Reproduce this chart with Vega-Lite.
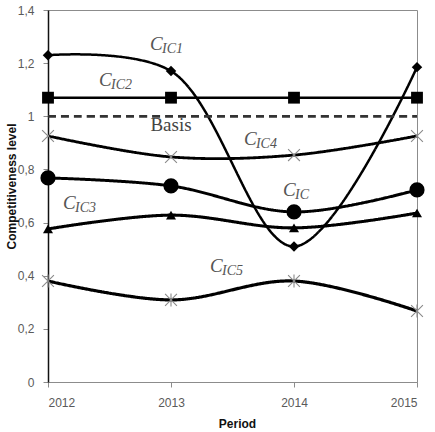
{
  "$schema": "https://vega.github.io/schema/vega-lite/v6.json",
  "width": 369,
  "height": 372,
  "autosize": {"type": "none"},
  "padding": {"left": 48, "top": 10, "right": 18, "bottom": 50},
  "background": "white",
  "config": {
    "view": {"stroke": "#8c8c8c", "strokeWidth": 1},
    "font": "Liberation Sans"
  },
  "datasets": {
    "levels": [
      {"series": "CIC1", "year": 2012, "value": 1.23},
      {"series": "CIC1", "year": 2013, "value": 1.17},
      {"series": "CIC1", "year": 2014, "value": 0.51},
      {"series": "CIC1", "year": 2015, "value": 1.185},
      {"series": "CIC2", "year": 2012, "value": 1.07},
      {"series": "CIC2", "year": 2013, "value": 1.07},
      {"series": "CIC2", "year": 2014, "value": 1.07},
      {"series": "CIC2", "year": 2015, "value": 1.07},
      {"series": "Basis", "year": 2012, "value": 1.0},
      {"series": "Basis", "year": 2013, "value": 1.0},
      {"series": "Basis", "year": 2014, "value": 1.0},
      {"series": "Basis", "year": 2015, "value": 1.0},
      {"series": "CIC4", "year": 2012, "value": 0.926},
      {"series": "CIC4", "year": 2013, "value": 0.847},
      {"series": "CIC4", "year": 2014, "value": 0.854},
      {"series": "CIC4", "year": 2015, "value": 0.926},
      {"series": "CIC", "year": 2012, "value": 0.768},
      {"series": "CIC", "year": 2013, "value": 0.738},
      {"series": "CIC", "year": 2014, "value": 0.64},
      {"series": "CIC", "year": 2015, "value": 0.723},
      {"series": "CIC3", "year": 2012, "value": 0.576},
      {"series": "CIC3", "year": 2013, "value": 0.628},
      {"series": "CIC3", "year": 2014, "value": 0.58},
      {"series": "CIC3", "year": 2015, "value": 0.636},
      {"series": "CIC5", "year": 2012, "value": 0.38},
      {"series": "CIC5", "year": 2013, "value": 0.309},
      {"series": "CIC5", "year": 2014, "value": 0.38},
      {"series": "CIC5", "year": 2015, "value": 0.267}
    ],
    "labels": [
      {"main": "C", "sub": "IC1", "year": 2012.829, "value": 1.272},
      {"main": "C", "sub": "IC2", "year": 2012.415, "value": 1.137},
      {"main": "C", "sub": "IC4", "year": 2013.593, "value": 0.913},
      {"main": "C", "sub": "IC", "year": 2013.911, "value": 0.721},
      {"main": "C", "sub": "IC3", "year": 2012.122, "value": 0.672},
      {"main": "C", "sub": "IC5", "year": 2013.317, "value": 0.435}
    ],
    "basis": [
      {"text": "Basis", "year": 2013.0, "value": 0.968}
    ]
  },
  "layer": [
    {
      "data": {"name": "levels"},
      "mark": {"type": "line", "interpolate": "catmull-rom"},
      "encoding": {
        "x": {
          "field": "year", "type": "quantitative",
          "scale": {"domain": [2012, 2015], "nice": false, "zero": false},
          "axis": {
            "values": [2012, 2013, 2014, 2015], "format": "d",
            "title": "Period", "grid": false,
            "domainColor": "#8c8c8c", "tickColor": "#8c8c8c", "tickSize": 5,
            "labelColor": "#5a5a5a", "labelFontSize": 12, "labelPadding": 10,
            "titleFontSize": 12, "titleFontWeight": "bold", "titleColor": "#111111",
            "titleX": 189, "titleY": 41, "titleBaseline": "middle", "titleAlign": "center"
          }
        },
        "y": {
          "field": "value", "type": "quantitative",
          "scale": {"domain": [0, 1.4], "nice": false},
          "axis": {
            "values": [0, 0.2, 0.4, 0.6, 0.8, 1, 1.2, 1.4],
            "labelExpr": "replace(format(datum.value, '.1~f'), '.', ',')",
            "title": "Competitiveness level", "grid": false,
            "domainColor": "#111111", "domainWidth": 1.5,
            "tickColor": "#8c8c8c", "tickSize": 5,
            "labelColor": "#5a5a5a", "labelFontSize": 12, "labelPadding": 9,
            "titleFontSize": 12, "titleFontWeight": "bold", "titleColor": "#111111",
            "titleX": -37, "titleY": 176, "titleBaseline": "middle", "titleAlign": "center", "titleAngle": -90
          }
        },
        "detail": {"field": "series"},
        "color": {
          "field": "series", "type": "nominal", "legend": null,
          "scale": {
            "domain": ["CIC1", "CIC2", "Basis", "CIC4", "CIC", "CIC3", "CIC5"],
            "range": ["#000000", "#000000", "#333333", "#000000", "#000000", "#000000", "#000000"]
          }
        },
        "strokeWidth": {
          "field": "series", "type": "nominal", "legend": null,
          "scale": {
            "domain": ["CIC1", "CIC2", "Basis", "CIC4", "CIC", "CIC3", "CIC5"],
            "range": [2.5, 3.2, 1.3, 2.5, 4.5, 2.5, 2.5]
          }
        },
        "strokeDash": {
          "field": "series", "type": "nominal", "legend": null,
          "scale": {
            "domain": ["CIC1", "CIC2", "Basis", "CIC4", "CIC", "CIC3", "CIC5"],
            "range": [[1, 0], [1, 0], [8, 5], [1, 0], [1, 0], [1, 0], [1, 0]]
          }
        }
      }
    },
    {
      "data": {"name": "levels"},
      "transform": [{"filter": "datum.series === 'CIC1'"}],
      "mark": {"type": "point", "shape": "diamond", "filled": true, "color": "#000000", "size": 110, "opacity": 1},
      "encoding": {
        "x": {"field": "year", "type": "quantitative"},
        "y": {"field": "value", "type": "quantitative"}
      }
    },
    {
      "data": {"name": "levels"},
      "transform": [{"filter": "datum.series === 'CIC2'"}],
      "mark": {"type": "point", "shape": "square", "filled": true, "color": "#000000", "size": 140, "opacity": 1},
      "encoding": {
        "x": {"field": "year", "type": "quantitative"},
        "y": {"field": "value", "type": "quantitative"}
      }
    },
    {
      "data": {"name": "levels"},
      "transform": [{"filter": "datum.series === 'CIC'"}],
      "mark": {"type": "point", "shape": "circle", "filled": true, "color": "#000000", "size": 230, "opacity": 1},
      "encoding": {
        "x": {"field": "year", "type": "quantitative"},
        "y": {"field": "value", "type": "quantitative"}
      }
    },
    {
      "data": {"name": "levels"},
      "transform": [{"filter": "datum.series === 'CIC3'"}],
      "mark": {"type": "point", "shape": "triangle-up", "filled": true, "color": "#000000", "size": 100, "opacity": 1},
      "encoding": {
        "x": {"field": "year", "type": "quantitative"},
        "y": {"field": "value", "type": "quantitative"}
      }
    },
    {
      "data": {"name": "levels"},
      "transform": [{"filter": "datum.series === 'CIC4'"}],
      "mark": {"type": "point", "shape": "M-1,-1L1,1M-1,1L1,-1", "filled": false, "stroke": "#8a8a8a", "strokeWidth": 1.1, "size": 140, "opacity": 1},
      "encoding": {
        "x": {"field": "year", "type": "quantitative"},
        "y": {"field": "value", "type": "quantitative"}
      }
    },
    {
      "data": {"name": "levels"},
      "transform": [{"filter": "datum.series === 'CIC5'"}],
      "mark": {"type": "point", "shape": "M-1,-1L1,1M-1,1L1,-1M0,-1.1L0,1.1", "filled": false, "stroke": "#8a8a8a", "strokeWidth": 1.1, "size": 140, "opacity": 1},
      "encoding": {
        "x": {"field": "year", "type": "quantitative"},
        "y": {"field": "value", "type": "quantitative"}
      }
    },
    {
      "data": {"name": "labels"},
      "mark": {"type": "text", "font": "Liberation Serif", "fontStyle": "italic", "fontSize": 19, "color": "#555555", "align": "left", "baseline": "middle"},
      "encoding": {
        "x": {"field": "year", "type": "quantitative"},
        "y": {"field": "value", "type": "quantitative"},
        "text": {"field": "main"}
      }
    },
    {
      "data": {"name": "labels"},
      "mark": {"type": "text", "font": "Liberation Serif", "fontStyle": "italic", "fontSize": 14, "color": "#555555", "align": "left", "baseline": "middle", "dx": 12, "dy": 5},
      "encoding": {
        "x": {"field": "year", "type": "quantitative"},
        "y": {"field": "value", "type": "quantitative"},
        "text": {"field": "sub"}
      }
    },
    {
      "data": {"name": "basis"},
      "mark": {"type": "text", "font": "Liberation Serif", "fontSize": 19, "color": "#444444", "align": "center", "baseline": "middle"},
      "encoding": {
        "x": {"field": "year", "type": "quantitative"},
        "y": {"field": "value", "type": "quantitative"},
        "text": {"field": "text"}
      }
    }
  ]
}
